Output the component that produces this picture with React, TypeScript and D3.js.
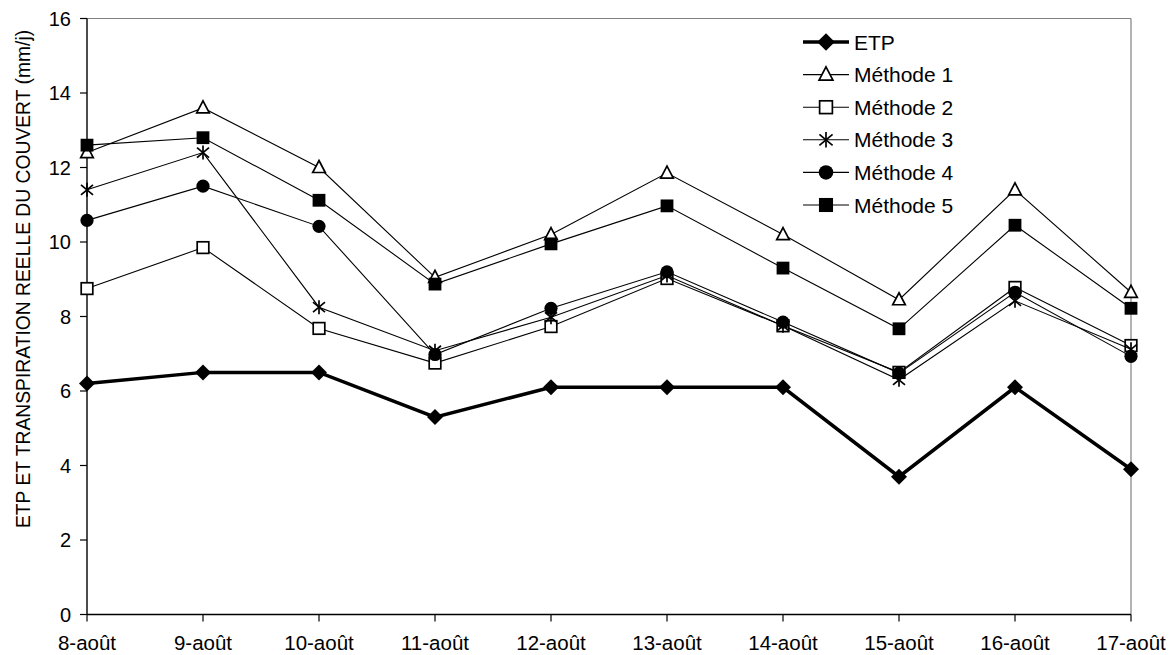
import React from "react";
import * as d3 from "d3";

const categories = ["8-août", "9-août", "10-août", "11-août", "12-août", "13-août", "14-août", "15-août", "16-août", "17-août"];
const etp = [6.2, 6.5, 6.5, 5.3, 6.1, 6.1, 6.1, 3.7, 6.1, 3.9];
const methode1 = [12.4, 13.6, 12.0, 9.05, 10.2, 11.85, 10.2, 8.45, 11.4, 8.65];
const methode2 = [8.75, 9.85, 7.68, 6.75, 7.73, 9.02, 7.75, 6.5, 8.78, 7.22];
const methode3 = [11.4, 12.4, 8.25, 7.08, 7.98, 9.1, 7.75, 6.3, 8.42, 7.12];
const methode4 = [10.58, 11.5, 10.42, 6.98, 8.22, 9.2, 7.85, 6.48, 8.65, 6.93];
const methode5 = [12.6, 12.8, 11.12, 8.87, 9.95, 10.97, 9.3, 7.67, 10.45, 8.22];
const yTicks = [0, 2, 4, 6, 8, 10, 12, 14, 16];

const seriesNames = ["ETP", "Méthode 1", "Méthode 2", "Méthode 3", "Méthode 4", "Méthode 5"];
const seriesValues = [etp, methode1, methode2, methode3, methode4, methode5];
const seriesMarkers = ["diamond", "triangle", "square", "asterisk", "circle", "fsquare"];

const FONT = "'Liberation Sans', Arial, sans-serif";

function Marker({ type, x, y, s = 1 }: { type: string; x: number; y: number; s?: number }) {
  switch (type) {
    case "diamond":
      return <path d={`M${x},${y - 8 * s}L${x + 8 * s},${y}L${x},${y + 8 * s}L${x - 8 * s},${y}Z`} fill="#000" />;
    case "triangle":
      return (
        <path
          d={`M${x},${y - 7 * s}L${x + 6.3 * s},${y + 5 * s}L${x - 6.3 * s},${y + 5 * s}Z`}
          fill="#fff"
          stroke="#000"
          strokeWidth={1.7}
        />
      );
    case "square":
      return <rect x={x - 5.8 * s} y={y - 5.8 * s} width={11.6 * s} height={11.6 * s} fill="#fff" stroke="#000" strokeWidth={1.7} />;
    case "fsquare":
      return <rect x={x - 6.4 * s} y={y - 6.4 * s} width={12.8 * s} height={12.8 * s} fill="#000" />;
    case "circle":
      return <circle cx={x} cy={y} r={6.6 * s} fill="#000" />;
    case "asterisk":
      return (
        <g stroke="#000" strokeWidth={1.7}>
          <line x1={x} y1={y - 7 * s} x2={x} y2={y + 7 * s} />
          <line x1={x - 6 * s} y1={y - 5 * s} x2={x + 6 * s} y2={y + 5 * s} />
          <line x1={x - 6 * s} y1={y + 5 * s} x2={x + 6 * s} y2={y - 5 * s} />
        </g>
      );
    default:
      return null;
  }
}

export default function App() {
  const width = 1171;
  const height = 655;
  const left = 87;
  const right = 1131;
  const top = 18.5;
  const bottom = 614.5;

  const x = d3.scalePoint<string>().domain(categories).range([left, right]);
  const y = d3.scaleLinear().domain([0, 16]).range([bottom, top]);
  const line = d3
    .line<number>()
    .x((_, i) => x(categories[i]) as number)
    .y((d) => y(d));

  const order = [0, 1, 2, 3, 4, 5];

  return (
    <svg width={width} height={height} style={{ position: "absolute", left: 0, top: 0, background: "#fff" }}>
      <rect x={0} y={0} width={width} height={height} fill="#fff" />
      {/* plot border (gray) */}
      <line x1={left} y1={top} x2={right} y2={top} stroke="#808080" strokeWidth={1.2} />
      <line x1={right} y1={top} x2={right} y2={bottom} stroke="#808080" strokeWidth={1.2} />

      {/* y axis */}
      <line x1={left} y1={top} x2={left} y2={bottom} stroke="#000" strokeWidth={1.4} />
      {yTicks.map((t) => (
        <g key={t}>
          <line x1={left - 7} y1={y(t)} x2={left} y2={y(t)} stroke="#000" strokeWidth={1.2} />
          <text x={left - 16} y={y(t)} dy="0.36em" textAnchor="end" fontFamily={FONT} fontSize={20} fill="#000">
            {t}
          </text>
        </g>
      ))}
      <text
        transform={`translate(${23},${279}) rotate(-90)`}
        textAnchor="middle"
        dy="0.36em"
        fontFamily={FONT}
        fontSize={19.3}
        fill="#000"
      >
        ETP ET TRANSPIRATION REELLE DU COUVERT (mm/j)
      </text>

      {/* x axis */}
      <line x1={left} y1={bottom} x2={right} y2={bottom} stroke="#000" strokeWidth={1.4} />
      {categories.map((c) => (
        <g key={c}>
          <line x1={x(c)} y1={bottom} x2={x(c)} y2={bottom + 7} stroke="#000" strokeWidth={1.2} />
          <text x={x(c)} y={bottom + 35} textAnchor="middle" fontFamily={FONT} fontSize={20.5} fill="#000">
            {c}
          </text>
        </g>
      ))}

      {/* series */}
      {order.map((si) => (
        <g key={seriesNames[si]}>
          <path d={line(seriesValues[si]) || ""} fill="none" stroke="#000" strokeWidth={si === 0 ? 3.5 : 1.1} />
          {seriesValues[si].map((v, i) => (
            <Marker key={i} type={seriesMarkers[si]} x={x(categories[i]) as number} y={y(v)} />
          ))}
        </g>
      ))}

      {/* legend */}
      {seriesNames.map((n, i) => {
        const ly = 42 + i * 32.6;
        return (
          <g key={n}>
            <line x1={803} x2={849} y1={ly} y2={ly} stroke="#000" strokeWidth={i === 0 ? 3.5 : 1.1} />
            <Marker type={seriesMarkers[i]} x={826} y={ly} s={1.1} />
            <text x={854} y={ly} dy="0.36em" fontFamily={FONT} fontSize={21} fill="#000">
              {n}
            </text>
          </g>
        );
      })}
    </svg>
  );
}
